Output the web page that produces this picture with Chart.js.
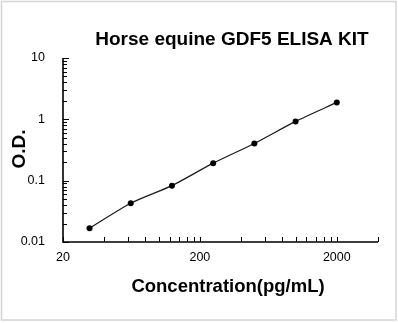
<!DOCTYPE html>
<html>
<head>
<meta charset="utf-8">
<script src="https://cdn.jsdelivr.net/npm/chart.js@4"></script>
<style>
  html, body { margin: 0; padding: 0; background: #fff; }
  canvas { display: block; }
</style>
</head>
<body>
<canvas id="chart" width="398" height="323"></canvas>
<script>
const concentrations = [31.25, 62.5, 125, 250, 500, 1000, 2000];
const odValues = [0.0168, 0.0429, 0.083, 0.193, 0.404, 0.925, 1.89];

const xTickValues = [20, 40, 60, 80, 100, 120, 140, 160, 180, 200,
    400, 600, 800, 1000, 1200, 1400, 1600, 1800, 2000, 4000];
const xLabelValues = [20, 200, 2000];
const yTickValues = [0.01, 0.02, 0.03, 0.04, 0.05, 0.06, 0.07, 0.08, 0.09,
    0.1, 0.2, 0.3, 0.4, 0.5, 0.6, 0.7, 0.8, 0.9,
    1, 2, 3, 4, 5, 6, 7, 8, 9, 10];
const yLabelValues = [0.01, 0.1, 1, 10];

const chartTitle = "Horse equine GDF5 ELISA KIT";
const xTitle = "Concentration(pg/mL)";
const yTitle = "O.D.";

// frame, axes, titles and inward tick marks
const decor = {
    id: "decor",
    beforeDraw(chart) {
        const ctx = chart.ctx;
        ctx.save();
        ctx.fillStyle = "#fff";
        ctx.fillRect(0, 0, chart.width, chart.height);
        ctx.strokeStyle = "#d4d4d4";
        ctx.lineWidth = 1.5;
        ctx.strokeRect(1.5, 1.5, 394.5, 318.5);
        ctx.restore();
    },
    afterDatasetsDraw(chart) {
        const ctx = chart.ctx;
        const xs = chart.scales.x, ys = chart.scales.y;
        const a = chart.chartArea;
        const left = Math.round(a.left), bottom = Math.round(a.bottom);
        ctx.save();
        ctx.strokeStyle = "#000";
        ctx.lineWidth = 1.6;
        ctx.beginPath();
        ctx.moveTo(left, a.top);
        ctx.lineTo(left, bottom);
        ctx.lineTo(a.right, bottom);
        ctx.stroke();

        ctx.lineWidth = 1;
        ctx.beginPath();
        xTickValues.forEach(v => {
            const px = Math.round(xs.getPixelForValue(v)) + 0.5;
            ctx.moveTo(px, bottom);
            ctx.lineTo(px, bottom - 5);
        });
        yTickValues.forEach(v => {
            const py = Math.round(ys.getPixelForValue(v)) + 0.5;
            const len = yLabelValues.includes(v) ? 6 : 4;
            ctx.moveTo(left, py);
            ctx.lineTo(left + len, py);
        });
        ctx.stroke();

        ctx.fillStyle = "#000";
        ctx.font = "bold 19px 'Liberation Sans', Arial, sans-serif";
        ctx.textAlign = "center";
        ctx.textBaseline = "alphabetic";
        ctx.fillText(chartTitle, 232, 45);
        ctx.font = "bold 18.5px 'Liberation Sans', Arial, sans-serif";
        ctx.fillText(xTitle, 228, 291.5);
        ctx.translate(25, 149);
        ctx.rotate(-Math.PI / 2);
        ctx.font = "bold 19px 'Liberation Sans', Arial, sans-serif";
        ctx.fillText(yTitle, 0, 0);
        ctx.restore();
    }
};

new Chart(document.getElementById("chart"), {
    type: "line",
    data: {
        datasets: [{
            data: concentrations.map((c, i) => ({ x: c, y: odValues[i] })),
            borderColor: "#1a1a1a",
            borderWidth: 1.2,
            backgroundColor: "#000",
            pointRadius: 3,
            pointBorderWidth: 0,
            tension: 0.25,
            fill: false
        }]
    },
    options: {
        responsive: false,
        animation: false,
        devicePixelRatio: 1,
        layout: { padding: { left: 0, top: 58, right: 20, bottom: 0 } },
        plugins: {
            legend: { display: false },
            title: { display: false },
            tooltip: { enabled: false }
        },
        scales: {
            x: {
                type: "logarithmic",
                min: 20,
                max: 4000,
                afterBuildTicks: s => { s.ticks = xTickValues.map(v => ({ value: v })); },
                afterFit: s => { s.height = 81; },
                grid: { display: false },
                border: { display: false },
                ticks: {
                    autoSkip: false,
                    maxRotation: 0,
                    padding: 0,
                    color: "#000",
                    font: { family: "'Liberation Sans', Arial, sans-serif", size: 12.5 },
                    callback: v => xLabelValues.includes(v) ? String(v) : ""
                }
            },
            y: {
                type: "logarithmic",
                min: 0.01,
                max: 10,
                afterBuildTicks: s => { s.ticks = yTickValues.map(v => ({ value: v })); },
                afterFit: s => { s.width = 63; },
                grid: { display: false },
                border: { display: false },
                ticks: {
                    autoSkip: false,
                    padding: 10,
                    color: "#000",
                    font: { family: "'Liberation Sans', Arial, sans-serif", size: 12.5 },
                    callback: v => yLabelValues.includes(v) ? String(v) : ""
                }
            }
        }
    },
    plugins: [decor]
});
</script>
</body>
</html>
